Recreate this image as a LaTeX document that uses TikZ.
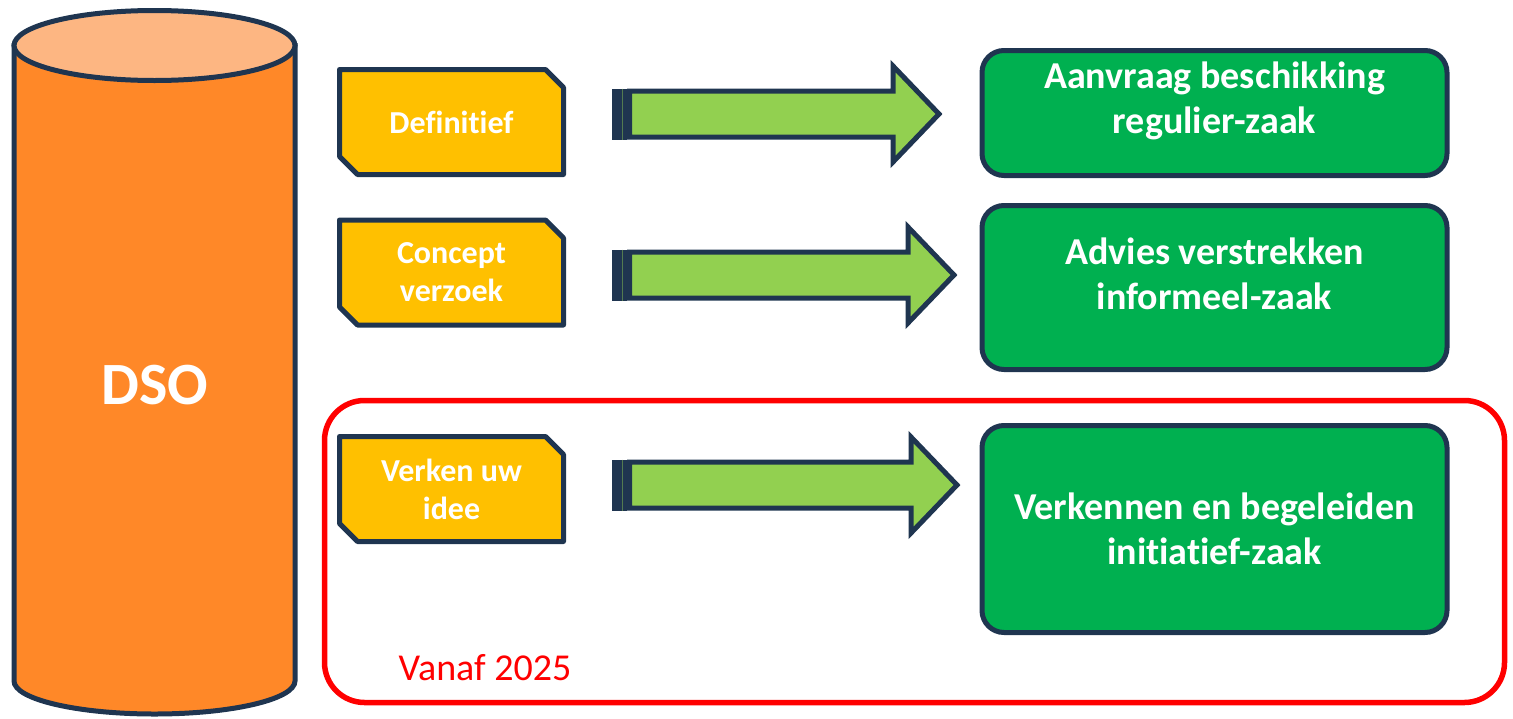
\documentclass[tikz,border=0pt]{standalone}
\usepackage{fontspec}
\setmainfont[Ligatures=NoCommon, RawFeature={-liga;-clig;-dlig}]{Carlito}
\usetikzlibrary{calc,shapes.misc}
\definecolor{navyline}{HTML}{1F3550}
\definecolor{dsoorange}{HTML}{FF8828}
\definecolor{dsotop}{HTML}{FDB682}
\definecolor{docyellow}{HTML}{FFC000}
\definecolor{arrowgreen}{HTML}{92D050}
\definecolor{zaakgreen}{HTML}{00B050}
\definecolor{zonered}{HTML}{FF0000}

\newcommand{\blkarrow}[2]{%
  \fill[navyline] ($(#1)+(0,-25.5)$) rectangle ($(#1)+(15,25.5)$);
  \draw[arrowgreen!45!navyline, line width=0.8pt] ($(#1)+(10,-25.5)$) -- ($(#1)+(10,25.5)$);
  \draw[arrowbody] ($(#1)+(17.5,-23)$) -- ($(#2)+(-46,-23)$) -- ($(#2)+(-46,-48)$) -- (#2)
    -- ($(#2)+(-46,48)$) -- ($(#2)+(-46,23)$) -- ($(#1)+(17.5,23)$) -- cycle;
}

\begin{document}
\begin{tikzpicture}[x=1pt,y=-1pt,
  every node/.style={text=white, font=\bfseries},
  docbox/.style={chamfered rectangle, chamfered rectangle corners={north east,south west},
    chamfered rectangle xsep=9pt, chamfered rectangle ysep=9pt,
    draw=navyline, fill=docyellow, line width=5pt, line join=round,
    minimum width=224pt, minimum height=105pt, inner sep=0pt, align=center,
    font=\fontsize{32}{38}\selectfont\bfseries},
  zaakbox/.style={draw=navyline, fill=zaakgreen, line width=5pt, rounded corners=22pt,
    minimum width=465pt, inner sep=0pt},
  zaaktext/.style={align=center, font=\fontsize{38}{45}\selectfont\bfseries},
  arrowbody/.style={draw=navyline, fill=arrowgreen, line width=5pt, line join=miter}]
  \useasboundingbox (0,0) rectangle (1513,718);

  \filldraw[draw=navyline, fill=dsoorange, line width=5pt] (14,45.5) -- (14,681)
    arc[start angle=180, end angle=0, x radius=140.5, y radius=33] -- (295,45.5) -- cycle;
  \filldraw[draw=navyline, fill=dsotop, line width=5pt] (154.5,45.5) ellipse[x radius=140.5, y radius=35];
  \node[font=\fontsize{60}{60}\selectfont\bfseries] (dso) at (155,385) {DSO};

  \draw[zonered, line width=5.5pt, rounded corners=40pt] (324.5,400.5) rectangle (1504.5,702.5);
  \node[text=zonered, font=\fontsize{38}{38}\selectfont, anchor=base] (vanaf) at (485,680) {Vanaf 2025};

  \node[docbox] (def) at (451.5,122) {Definitief};
  \node[docbox] (con) at (451.5,272.5) {Concept\\verzoek};
  \node[docbox] (ver) at (451.5,489) {Verken uw\\idee};

  \node[zaakbox, minimum height=125pt] (aan) at (1214.5,113) {};
  \node[zaaktext] (aantxt) at ([yshift=12pt]aan.center) {Aanvraag beschikking\\regulier-zaak};
  \node[zaakbox, minimum height=164pt] (adv) at (1214.5,287.5) {};
  \node[zaaktext] (advtxt) at ([yshift=14pt]adv.center) {Advies verstrekken\\informeel-zaak};
  \node[zaakbox, minimum height=207pt] (ini) at (1214.5,529) {};
  \node[zaaktext] (initxt) at (ini.center) {Verkennen en begeleiden\\initiatief-zaak};

  \foreach \i/\y/\tip in {1/114/939, 2/275/954, 3/485/957}{
    \coordinate (s\i) at (612,\y);
    \coordinate (t\i) at (\tip,\y);
    \blkarrow{s\i}{t\i}
  }
\end{tikzpicture}
\end{document}
